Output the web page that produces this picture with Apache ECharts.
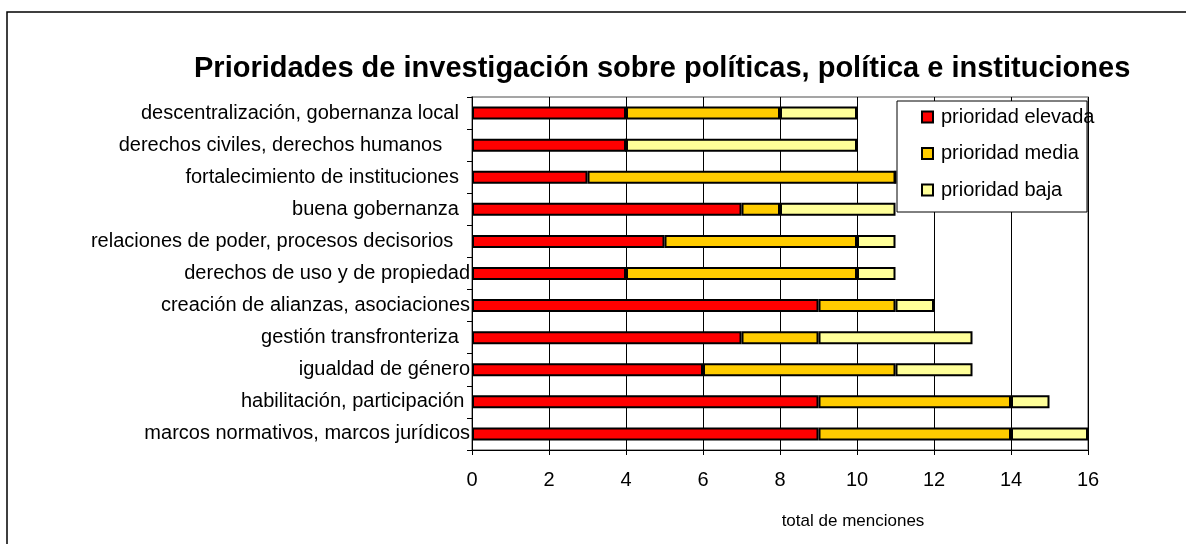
<!DOCTYPE html>
<html>
<head>
<meta charset="utf-8">
<script src="https://cdn.jsdelivr.net/npm/echarts@6/dist/echarts.min.js"></script>
<style>
  html, body { margin: 0; padding: 0; background: #fff; }
  #chart { width: 1186px; height: 544px; }
</style>
</head>
<body>
<div id="chart"></div>
<script>
// categorias, de arriba a abajo (espacios finales como en el original)
const categorias = [
  'descentralización, gobernanza local  ',
  'derechos civiles, derechos humanos     ',
  'fortalecimiento de instituciones  ',
  'buena gobernanza  ',
  'relaciones de poder, procesos decisorios   ',
  'derechos de uso y de propiedad',
  'creación de alianzas, asociaciones',
  'gestión transfronteriza  ',
  'igualdad de género',
  'habilitación, participación ',
  'marcos normativos, marcos jurídicos'
];
const prioridadElevada = [4, 4, 3, 7, 5, 4, 9, 7, 6, 9, 9];
const prioridadMedia   = [4, 0, 8, 1, 5, 6, 2, 2, 5, 5, 5];
const prioridadBaja    = [2, 6, 0, 3, 1, 1, 1, 4, 2, 1, 2];
const ticksX = [0, 2, 4, 6, 8, 10, 12, 14, 16];

const fuente = 'Liberation Sans, Arial, sans-serif';

function serie(nombre, datos, color) {
  return {
    name: nombre,
    type: 'bar',
    stack: 'total',
    barWidth: 13,
    data: datos,
    itemStyle: { color: color, borderColor: '#000', borderWidth: 2 }
  };
}

const chart = echarts.init(document.getElementById('chart'));
chart.setOption({
  animation: false,
  backgroundColor: '#fff',
  textStyle: { fontFamily: fuente },
  title: {
    text: 'Prioridades de investigación sobre políticas, política e instituciones',
    left: 189,
    top: 49,
    textStyle: { fontFamily: fuente, fontSize: 29, fontWeight: 'bold', color: '#000' }
  },
  graphic: [
    {
      type: 'rect', z: 0, silent: true,
      shape: { x: 7, y: 12, width: 1200, height: 600 },
      style: { fill: 'none', stroke: '#000', lineWidth: 1.5 }
    },
    {
      type: 'rect', z: 50, silent: true,
      shape: { x: 897, y: 101, width: 190, height: 111 },
      style: { fill: '#fff', stroke: '#000', lineWidth: 1 }
    }
  ],
  legend: {
    orient: 'vertical',
    left: 921,
    top: 107,
    z: 60,
    padding: 0,
    itemWidth: 11,
    itemHeight: 11,
    itemGap: 16.5,
    icon: 'rect',
    textStyle: { fontFamily: fuente, fontSize: 20, color: '#000', lineHeight: 20, padding: [0, 0, 0, 3] },
    data: ['prioridad elevada', 'prioridad media', 'prioridad baja']
  },
  grid: {
    left: 472,
    right: 98,
    top: 97,
    bottom: 94,
    show: true,
    borderColor: '#888',
    borderWidth: 1.5
  },
  xAxis: {
    type: 'value',
    min: ticksX[0],
    max: ticksX[ticksX.length - 1],
    interval: 2,
    name: 'total de menciones',
    nameLocation: 'middle',
    nameGap: 63,
    nameTextStyle: { fontFamily: fuente, fontSize: 17, color: '#000', padding: [0, 0, 0, 146] },
    axisLine: { show: true, lineStyle: { color: '#000', width: 1 } },
    axisTick: { show: true, length: 5, lineStyle: { color: '#000' } },
    axisLabel: { fontFamily: fuente, fontSize: 20, color: '#000', margin: 20 },
    splitLine: { show: true, lineStyle: { color: '#000', width: 1 } }
  },
  yAxis: {
    type: 'category',
    inverse: true,
    data: categorias,
    axisLine: { show: true, lineStyle: { color: '#000', width: 1 } },
    axisTick: { show: true, length: 5, lineStyle: { color: '#000' } },
    axisLabel: { fontFamily: fuente, fontSize: 20, color: '#000', margin: 2 },
    splitLine: { show: false }
  },
  series: [
    serie('prioridad elevada', prioridadElevada, '#ff0000'),
    serie('prioridad media', prioridadMedia, '#ffcc00'),
    serie('prioridad baja', prioridadBaja, '#ffff99')
  ]
});
</script>
</body>
</html>
